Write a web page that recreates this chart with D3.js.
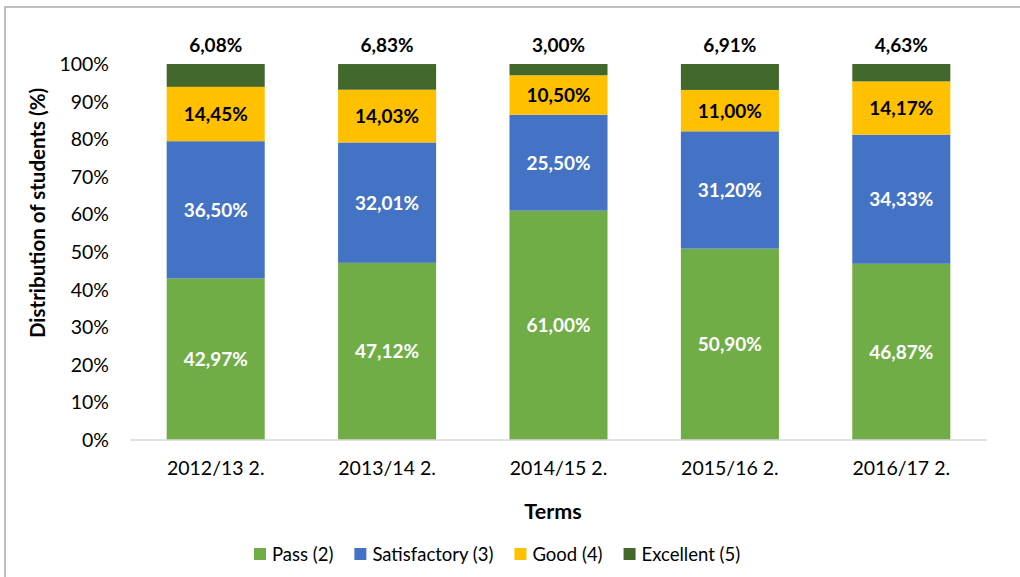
<!DOCTYPE html>
<html><head><meta charset="utf-8">
<script src="https://cdn.jsdelivr.net/npm/d3@7"></script>
<style>body{margin:0;background:#fff;} text{font-family:Lato,"Open Sans",sans-serif;}</style>
</head><body>
<svg id="c" width="1020" height="577"></svg>
<script>
const categories = ["2012/13 2.", "2013/14 2.", "2014/15 2.", "2015/16 2.", "2016/17 2."];
const seriesNames = ["Pass (2)", "Satisfactory (3)", "Good (4)", "Excellent (5)"];
const pass = [42.97, 47.12, 61.00, 50.90, 46.87];
const satisfactory = [36.50, 32.01, 25.50, 31.20, 34.33];
const good = [14.45, 14.03, 10.50, 11.00, 14.17];
const excellent = [6.08, 6.83, 3.00, 6.91, 4.63];
const colors = ["#70AD47", "#4472C4", "#FFC000", "#43682B"];
const labelColors = ["#ffffff", "#ffffff", "#000000", "#000000"];
const yTicks = [0,10,20,30,40,50,60,70,80,90,100];

(function(){
const svg = d3.select("#c");
svg.append("rect").attr("x",5).attr("y",7).attr("width",1030).attr("height",600)
  .attr("fill","#fff").attr("stroke","#bfbfbf").attr("stroke-width",2);

const pL=130, pR=987, pT=64, pB=440;
const x = d3.scaleBand().domain(categories).range([pL,pR]).paddingInner(0.428).paddingOuter(0.214);
const y = d3.scaleLinear().domain([0,100]).range([pB,pT]);

const rows = categories.map((c,i)=>({cat:c, s0:pass[i], s1:satisfactory[i], s2:good[i], s3:excellent[i]}));
const stack = d3.stack().keys(["s0","s1","s2","s3"]);
const layers = stack(rows);

const fmt = v => v.toFixed(2).replace(".", ",") + "%";

layers.forEach((layer, li) => {
  const g = svg.append("g");
  g.selectAll("rect").data(layer).enter().append("rect")
    .attr("x", d=>x(d.data.cat)).attr("width", x.bandwidth())
    .attr("y", d=>y(Math.min(d[1],100))).attr("height", d=>y(d[0])-y(Math.min(d[1],100)))
    .attr("fill", colors[li]);
  g.selectAll("text").data(layer).enter().append("text")
    .attr("x", d=>x(d.data.cat)+x.bandwidth()/2)
    .attr("y", d=> li===3 ? y(100)-12 : (y(d[0])+y(d[1]))/2 + 7)
    .attr("text-anchor","middle").attr("font-size",19).attr("font-weight","bold")
    .attr("fill", labelColors[li])
    .text(d=>fmt(d[1]-d[0]));
});

svg.append("line").attr("x1",pL).attr("x2",pR).attr("y1",pB).attr("y2",pB)
  .attr("stroke","#d9d9d9").attr("stroke-width",1.5);
svg.append("g").selectAll("text").data(categories).enter().append("text")
  .attr("x", d=>x(d)+x.bandwidth()/2).attr("y", pB+35)
  .attr("text-anchor","middle").attr("font-size",19.5).attr("fill","#000").text(d=>d);

svg.append("g").selectAll("text").data(yTicks).enter().append("text")
  .attr("x",109).attr("y", d=>y(d)+7).attr("text-anchor","end")
  .attr("font-size",19.5).attr("fill","#000").text(d=>d+"%");

svg.append("text").attr("x",553).attr("y",519).attr("text-anchor","middle")
  .attr("font-size",21.5).attr("font-weight","bold").text("Terms");
svg.append("text").attr("transform","translate(45,213) rotate(-90)").attr("text-anchor","middle")
  .attr("font-size",20.5).attr("font-weight","bold").text("Distribution of students (%)");

const leg = svg.append("g");
let lx = 254;
seriesNames.forEach((n,i)=>{
  leg.append("rect").attr("x",lx).attr("y",548).attr("width",12).attr("height",12).attr("fill",colors[i]);
  const t = leg.append("text").attr("x",lx+18).attr("y",561).attr("font-size",18.5).attr("fill","#000").text(n);
  lx += 18 + t.node().getComputedTextLength() + 21;
});
})();
</script>
</body></html>
